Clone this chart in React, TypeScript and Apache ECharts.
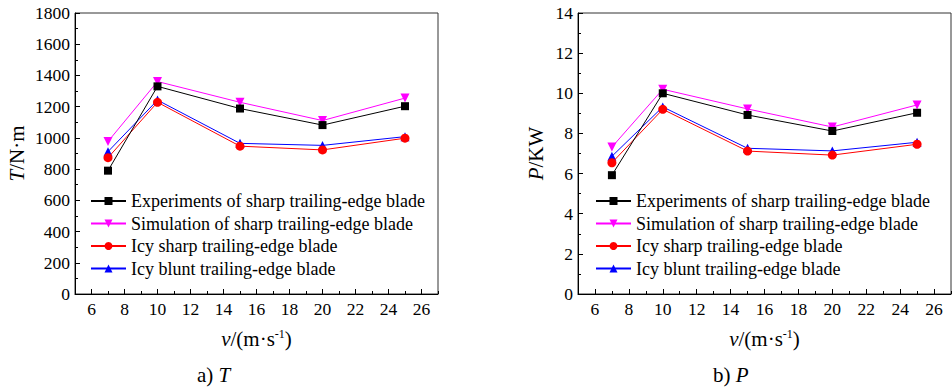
import React, { useEffect, useRef } from "react";
import * as echarts from "echarts";

const speeds = [7, 10, 15, 20, 25];
const seriesNames = [
  "Experiments of sharp trailing-edge blade",
  "Simulation of sharp trailing-edge blade",
  "Icy sharp trailing-edge blade",
  "Icy blunt trailing-edge blade",
];
// Torque T (N·m)
const torqueExp = [790, 1330, 1188, 1082, 1203];
const torqueSim = [977, 1361, 1228, 1111, 1255];
const torqueIcySharp = [873, 1228, 947, 923, 998];
const torqueIcyBlunt = [912, 1242, 965, 952, 1008];
// Power P (KW)
const powerExp = [5.92, 10.0, 8.92, 8.12, 9.03];
const powerSim = [7.32, 10.2, 9.22, 8.32, 9.42];
const powerIcySharp = [6.54, 9.2, 7.12, 6.92, 7.46];
const powerIcyBlunt = [6.86, 9.32, 7.26, 7.13, 7.56];

const colors = ["#000000", "#ff00ff", "#ff0000", "#0000ff"];
const symbols = ["rect", "triangle", "circle", "triangle"];
const rotates = [0, 180, 0, 0];

const FONT = "Liberation Serif";

export default function App() {
  const ref = useRef<HTMLDivElement>(null);
  useEffect(() => {
    if (!ref.current) return;
    const chart = echarts.init(ref.current, undefined, { renderer: "svg" });
    const grids = [
      { left: 75, top: 13, width: 363, height: 281 },
      { left: 578, top: 13, width: 373, height: 281 },
    ];
    const textBase = { color: "#000", fontFamily: FONT };
    const nameRich = {
      i: { fontStyle: "italic", fontSize: 21, fontFamily: FONT, color: "#000" },
      n: { fontSize: 21, fontFamily: FONT, color: "#000" },
      sup: { fontSize: 12, fontFamily: FONT, color: "#000", verticalAlign: "top" },
    };
    const tickRich = { t: { fontSize: 17.5, fontFamily: FONT, color: "#000" } };
    const plain = (v: number) => "{t|" + String(v) + "}";
    const labelStyle = (margin: number) => ({
      ...textBase,
      fontSize: 17.5,
      margin,
      formatter: plain,
      rich: tickRich,
    });
    const xAxes: any[] = [];
    grids.forEach((_, gi) => {
      xAxes.push({
        type: "value",
        gridIndex: gi,
        min: 5,
        max: 27,
        splitNumber: 11,
        minInterval: 2,
        maxInterval: 2,
        position: "bottom",
        axisLine: { show: true, onZero: false, lineStyle: { color: "#000", width: 1 } },
        axisTick: { show: true, inside: true, length: 5, lineStyle: { color: "#000" } },
        axisLabel: { ...labelStyle(6), showMinLabel: false, showMaxLabel: false },
        splitLine: { show: false },
        name: "{i|v}{n|/(m·s}{sup|-1}{n|)}",
        nameLocation: "middle",
        nameGap: 34,
        nameTextStyle: { rich: nameRich, fontFamily: FONT },
      });
    });
    grids.forEach((_, gi) => {
      xAxes.push({
        type: "value",
        gridIndex: gi,
        min: 5,
        max: 27,
        interval: 1,
        position: "bottom",
        axisLine: { show: false },
        axisTick: { show: true, inside: true, length: 3, lineStyle: { color: "#000" } },
        axisLabel: { show: false },
        splitLine: { show: false },
      });
    });
    const yAxes = [
      {
        type: "value",
        gridIndex: 0,
        min: 0,
        max: 1800,
        interval: 200,
        axisLine: { show: true, lineStyle: { color: "#000", width: 1 } },
        axisTick: { show: true, inside: true, length: 5, lineStyle: { color: "#000" } },
        minorTick: { show: true, splitNumber: 2, length: 3, lineStyle: { color: "#000" } },
        axisLabel: labelStyle(5),
        splitLine: { show: false },
        name: "{i|T}{n|/N·m}",
        nameLocation: "middle",
        nameRotate: 90,
        nameGap: 48,
        nameTextStyle: { rich: nameRich, fontFamily: FONT },
      },
      {
        type: "value",
        gridIndex: 1,
        min: 0,
        max: 14,
        interval: 2,
        axisLine: { show: true, lineStyle: { color: "#000", width: 1 } },
        axisTick: { show: true, inside: true, length: 5, lineStyle: { color: "#000" } },
        minorTick: { show: true, splitNumber: 2, length: 3, lineStyle: { color: "#000" } },
        axisLabel: labelStyle(5),
        splitLine: { show: false },
        name: "{i|P}{n|/KW}",
        nameLocation: "middle",
        nameRotate: 90,
        nameGap: 32,
        nameTextStyle: { rich: nameRich, fontFamily: FONT },
      },
    ];
    const torque = [torqueExp, torqueSim, torqueIcySharp, torqueIcyBlunt];
    const power = [powerExp, powerSim, powerIcySharp, powerIcyBlunt];
    const series: any[] = [];
    [torque, power].forEach((set, gi) => {
      set.forEach((vals, si) => {
        series.push({
          type: "line",
          name: seriesNames[si],
          xAxisIndex: gi,
          yAxisIndex: gi,
          data: speeds.map((s, k) => [s, vals[k]]),
          symbol: symbols[si],
          symbolRotate: rotates[si],
          symbolSize: si === 0 ? 8 : 9,
          showAllSymbol: true,
          color: colors[si],
          lineStyle: { color: colors[si], width: 1 },
          itemStyle: { color: colors[si] },
          z: 10 - si,
        });
      });
    });
    const legendBase = {
      orient: "vertical",
      itemWidth: 35,
      itemHeight: 10,
      itemGap: 4.5,
      textStyle: { ...textBase, fontSize: 18 },
      data: seriesNames,
      selectedMode: false,
    };
    chart.setOption({
      animation: false,
      backgroundColor: "#fff",
      textStyle: { fontFamily: FONT },
      grid: grids.map((g) => ({ ...g, show: true, borderColor: "#333", borderWidth: 1, backgroundColor: "transparent" })),
      xAxis: xAxes,
      yAxis: yAxes,
      legend: [
        { ...legendBase, left: 85, top: 187 },
        { ...legendBase, left: 590, top: 187 },
      ],
      series,
      graphic: [
        {
          type: "text",
          left: 197,
          top: 364,
          style: {
            text: "{n|a) }{i|T}",
            rich: nameRich,
          },
        },
        {
          type: "text",
          left: 713,
          top: 364,
          style: {
            text: "{n|b) }{i|P}",
            rich: nameRich,
          },
        },
      ],
    });
    return () => chart.dispose();
  }, []);
  return (
    <div
      ref={ref}
      style={{ position: "absolute", left: 0, top: 0, width: 952, height: 389 }}
    />
  );
}
